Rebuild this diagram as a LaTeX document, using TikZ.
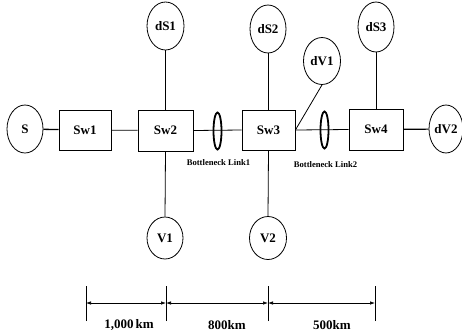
\documentclass[tikz,border=0pt]{standalone}
\usepackage{fontspec}
\setmainfont{Liberation Serif}
\usetikzlibrary{shapes.geometric,arrows.meta}
\begin{document}
\begin{tikzpicture}[x=1pt,y=-1pt,
  every node/.style={font=\fontsize{13}{15}\selectfont\bfseries, inner sep=0pt},
  host/.style={draw, ellipse, line width=0.8pt, minimum width=36pt, minimum height=47pt},
  sw/.style={draw, rectangle, line width=0.8pt, minimum width=53pt, minimum height=40pt},
  bneck/.style={draw, ellipse, line width=1.8pt, minimum width=8pt, minimum height=37pt},
  link/.style={line width=0.8pt},
  small/.style={font=\fontsize{8.6}{10}\selectfont\bfseries},
  dim/.style={line width=0.7pt, {Latex[length=5pt,width=3.5pt]}-{Latex[length=5pt,width=3.5pt]}},
  tick/.style={line width=0.8pt}]
\useasboundingbox (0,0) rectangle (462,335);
% main row
\node[host, minimum height=48pt] (S) at (25,129) {S};
\node[sw, minimum width=52pt] (Sw1) at (85,130) {Sw1};
\node[sw, minimum width=55pt, minimum height=41pt] (Sw2) at (165.5,130.5) {Sw2};
\node[sw] (Sw3) at (268.5,130) {Sw3};
\node[sw, minimum width=54pt, minimum height=41pt] (Sw4) at (376,129.5) {Sw4};
\node[host, minimum width=34pt, minimum height=48pt] (dV2) at (446,129) {dV2};
% top hosts
\node[host, minimum width=37pt, minimum height=48pt] (dS1) at (165.5,26) {dS1};
\node[host, minimum height=48pt] (dS2) at (268,29) {dS2};
\node[host, minimum height=50pt] (dS3) at (376,27) {dS3};
\node[host, minimum width=37pt] (dV1) at (322,61) {dV1};
% bottom hosts
\node[host, minimum height=42pt] (V1) at (165,238) {V1};
\node[host, minimum width=37pt, minimum height=43pt] (V2) at (268,238) {V2};
% links
\draw[link, line width=1.3pt] (S) -- (Sw1);
\draw[link] (Sw1) -- (Sw2);
\draw[link] (Sw2.east) -- (Sw3.west);
\draw[link] (Sw3.east) -- (Sw4.west);
\draw[link, line width=1.2pt] (Sw4) -- (dV2);
\draw[link] (dS1.south) -- (dS1.south |- Sw2.north);
\draw[link] (Sw2.south |- Sw2.south) -- (V1.north);
\draw[link] (dS2.south) -- (dS2.south |- Sw3.north);
\draw[link] (Sw3.south) -- (V2.north);
\draw[link] (dS3.south) -- (dS3.south |- Sw4.north);
\draw[link] (dV1.south) -- (Sw3.east);
% bottleneck rings
\node[bneck] (B1) at (217.5,131) {};
\node[bneck] (B2) at (324.5,130) {};
\node[small] (L1) at (218.5,163) {Bottleneck Link1};
\node[small] (L2) at (325.5,164.5) {Bottleneck Link2};
% distance scale
\coordinate (t1) at (86,303);
\coordinate (t2) at (166,303);
\coordinate (t3) at (268,303);
\coordinate (t4) at (375,303);
\foreach \t in {t1,t2,t3,t4}{
  \draw[tick] ([yshift=-18pt]\t) -- ([yshift=17pt]\t);
}
\draw[dim] (t1) -- (t2);
\draw[dim] (t2) -- (t3);
\draw[dim] (t3) -- (t4);
\node (d1) at (129,325) {1,000\,km};
\node (d2) at (227,325) {800km};
\node (d3) at (332,325) {500km};
\end{tikzpicture}
\end{document}
